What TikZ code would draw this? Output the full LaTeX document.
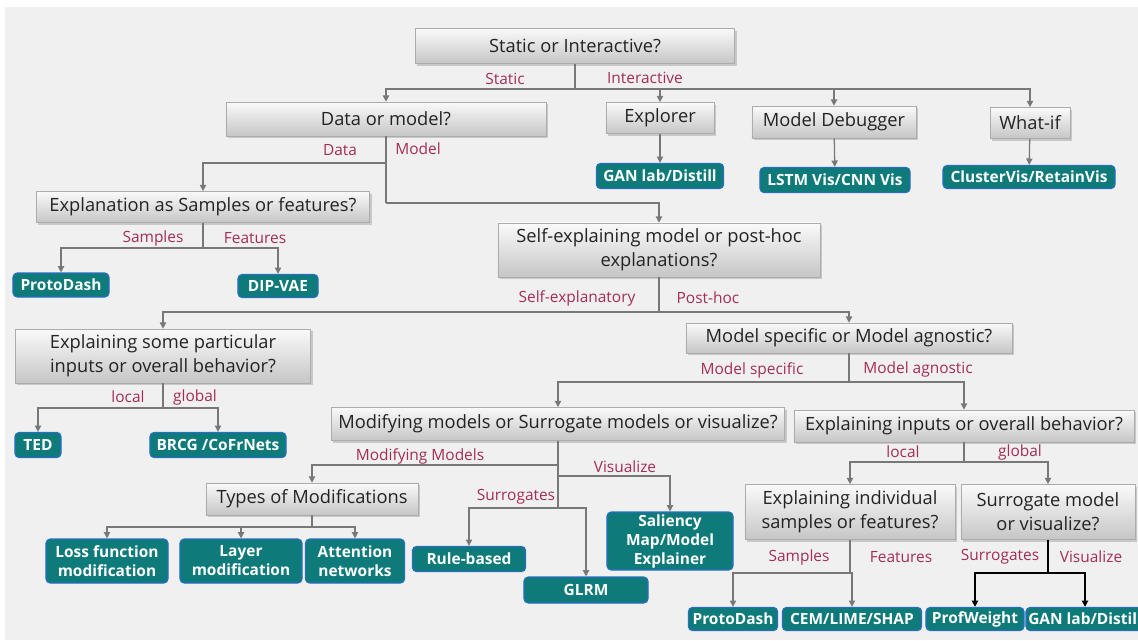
\documentclass[tikz,border=0pt]{standalone}
\usepackage{fontspec}
\setmainfont{Open Sans}
\usetikzlibrary{arrows.meta,shadows}

\definecolor{panel}{RGB}{240,240,240}
\definecolor{tealfill}{RGB}{14,122,122}
\definecolor{tealedge}{RGB}{40,110,200}
\definecolor{optred}{RGB}{165,45,85}
\definecolor{wiregray}{RGB}{120,120,120}
\definecolor{boxtext}{RGB}{35,35,35}

\tikzset{
	qbox/.style={rectangle,draw=gray!65,top color=gray!4,bottom color=gray!45,
		drop shadow={shadow xshift=1.5pt,shadow yshift=-1.5pt,opacity=0.35},
		text=boxtext,font=\fontsize{13}{17}\selectfont,align=center,inner sep=2pt},
	tool/.style={rectangle,rounded corners=3pt,draw=tealedge,line width=0.8pt,fill=tealfill,
		text=white,font=\fontsize{11}{13.5}\selectfont\bfseries,align=center,inner sep=1pt},
	wire/.style={draw=wiregray,line width=0.9pt},
	wirearr/.style={wire,-{Triangle[length=4.5pt,width=4.5pt]}},
	opt/.style={text=optred,font=\fontsize{11}{13}\selectfont,inner sep=0pt},
}

\begin{document}
\begin{tikzpicture}[x=0.025cm,y=-0.025cm]
	\useasboundingbox (0,0) rectangle (1138,640);
	\fill[white] (0,0) rectangle (1138,640);
	\fill[panel] (5,7) rectangle (1138,640);

	% question boxes
	\node[qbox,minimum width=7.98cm,minimum height=0.88cm] (static) at (575,46) {Static or Interactive?};
	\node[qbox,minimum width=8cm,minimum height=0.85cm] (data) at (386,119) {Data or model?};
	\node[qbox,minimum width=2.7cm,minimum height=0.78cm] (explorer) at (660,118) {Explorer};
	\node[qbox,minimum width=4.1cm,minimum height=0.8cm] (debugger) at (834,122) {Model Debugger};
	\node[qbox,minimum width=2cm,minimum height=0.78cm] (whatif) at (1030,123) {What-if};
	\node[qbox,minimum width=8.33cm,minimum height=0.78cm] (expl) at (203,207) {Explanation as Samples or features?};
	\node[qbox,minimum width=8.05cm,minimum height=1.35cm] (self) at (659,250) {Self-explaining model or post-hoc\\explanations?};
	\node[qbox,minimum width=7.38cm,minimum height=1.35cm] (partic) at (163,356) {Explaining some particular\\inputs or overall behavior?};
	\node[qbox,minimum width=8.15cm,minimum height=0.75cm] (specific) at (849,338) {Model specific or Model agnostic?};
	\node[qbox,minimum width=11.33cm,minimum height=0.83cm] (modify) at (558,424) {Modifying models or Surrogate models or visualize?};
	\node[qbox,minimum width=8.5cm,minimum height=0.8cm] (inputs) at (964,426) {Explaining inputs or overall behavior?};
	\node[qbox,minimum width=5.3cm,minimum height=0.8cm] (types) at (312,499) {Types of Modifications};
	\node[qbox,minimum width=5.25cm,minimum height=1.38cm] (indiv) at (850,512) {Explaining individual\\samples or features?};
	\node[qbox,minimum width=4.35cm,minimum height=1.38cm] (surr) at (1048,512) {Surrogate model\\or visualize?};

	% toolkits
	\node[tool,minimum width=3.18cm,minimum height=0.63cm] (ganA) at (660,176) {GAN lab/Distill};
	\node[tool,minimum width=3.75cm,minimum height=0.63cm] (lstm) at (835,180) {LSTM Vis/CNN Vis};
	\node[tool,minimum width=4.3cm,minimum height=0.58cm] (cluster) at (1029,177) {ClusterVis/RetainVis};
	\node[tool,minimum width=2.4cm,minimum height=0.6cm] (protoA) at (61,285) {ProtoDash};
	\node[tool,minimum width=2cm,minimum height=0.58cm] (dipvae) at (278,286) {DIP-VAE};
	\node[tool,minimum width=1.15cm,minimum height=0.63cm] (ted) at (38,445) {TED};
	\node[tool,minimum width=3.4cm,minimum height=0.63cm] (brcg) at (218,445) {BRCG /CoFrNets};
	\node[tool,minimum width=3.05cm,minimum height=1.1cm] (loss) at (107,561) {Loss function\\modification};
	\node[tool,minimum width=3.05cm,minimum height=1.1cm] (layer) at (241,561) {Layer\\modification};
	\node[tool,minimum width=2.48cm,minimum height=1.1cm] (attn) at (355,561) {Attention\\networks};
	\node[tool,minimum width=2.83cm,minimum height=0.63cm] (rule) at (469,559) {Rule-based};
	\node[tool,minimum width=3.1cm,minimum height=0.65cm] (glrm) at (586,590) {GLRM};
	\node[tool,minimum width=3.15cm,minimum height=1.45cm] (saliency) at (670,541) {Saliency\\Map/Model\\Explainer};
	\node[tool,minimum width=2.23cm,minimum height=0.58cm] (protoB) at (733,619) {ProtoDash};
	\node[tool,minimum width=3.48cm,minimum height=0.58cm] (cem) at (852,619) {CEM/LIME/SHAP};
	\node[tool,minimum width=2.45cm,minimum height=0.58cm] (prof) at (975,619) {ProfWeight};
	\node[tool,minimum width=2.95cm,minimum height=0.58cm] (ganB) at (1085,619) {GAN lab/Distill};

	% static / interactive
	\coordinate (j1) at (575,89);
	\draw[wire] (static.south) -- (j1);
	\draw[wirearr] (j1) -| (data.north);
	\draw[wirearr] (j1) -| (explorer.north);
	\draw[wirearr] (j1) -| (debugger.north);
	\draw[wirearr] (j1) -| (whatif.north);
	\draw[wirearr] (explorer) -- (ganA);
	\draw[wirearr] (debugger) -- (lstm);
	\draw[wirearr] (whatif) -- (cluster);
	\node[opt] (lStatic) at (505,79) {Static};
	\node[opt] (lInter) at (645,78) {Interactive};

	% data / model
	\coordinate (j2) at (386,163);
	\coordinate (j3) at (386,203);
	\draw[wire] (data.south) -- (j3);
	\draw[wirearr] (j2) -| (expl.north);
	\draw[wirearr] (j3) -| (self.north);
	\node[opt] (lData) at (340,150) {Data};
	\node[opt] (lModel) at (418,149) {Model};

	\coordinate (j4) at (203,248);
	\draw[wire] (expl.south) -- (j4);
	\draw[wirearr] (j4) -| (protoA.north);
	\draw[wirearr] (j4) -| (dipvae.north);
	\node[opt] (lSampA) at (153,238) {Samples};
	\node[opt] (lFeatA) at (255,238) {Features};

	% self-explaining or post-hoc
	\coordinate (j5) at (659,312);
	\draw[wire] (self.south) -- (j5);
	\draw[wirearr] (j5) -| (partic.north);
	\draw[wirearr] (j5) -| (specific.north);
	\node[opt] (lSelf) at (577,298) {Self-explanatory};
	\node[opt] (lPost) at (708,298) {Post-hoc};

	\coordinate (j6) at (163,408);
	\draw[wire] (partic.south) -- (j6);
	\draw[wirearr] (j6) -| (ted.north);
	\draw[wirearr] (j6) -| (brcg.north);
	\node[opt] (lLocA) at (128,397) {local};
	\node[opt] (lGloA) at (195,397) {global};

	\coordinate (j7) at (849,382);
	\draw[wire] (specific.south) -- (j7);
	\draw[wirearr] (j7) -| (modify.north);
	\draw[wirearr] (j7) -| (inputs.north);
	\node[opt] (lSpec) at (752,370) {Model specific};
	\node[opt] (lAgn) at (918,369) {Model agnostic};

	% model specific branch
	\coordinate (j8) at (558,465);
	\coordinate (j9) at (558,476);
	\coordinate (j10) at (558,508);
	\draw[wire] (modify.south) -- (j10);
	\draw[wirearr] (j8) -| (types.north);
	\draw[wirearr] (j9) -| (saliency.north);
	\draw[wirearr] (j10) -| (rule.north);
	\draw[wirearr] (j10) -| (glrm.north);
	\node[opt] (lModif) at (420,456) {Modifying Models};
	\node[opt] (lVisA) at (625,467) {Visualize};
	\node[opt] (lSurA) at (516,497) {Surrogates};

	\coordinate (j11) at (312,527);
	\draw[wire] (types.south) -- (j11);
	\draw[wirearr] (j11) -| (loss.north);
	\draw[wirearr] (j11) -| (layer.north);
	\draw[wirearr] (j11) -| (attn.north);

	% model agnostic branch
	\coordinate (j12) at (964,462);
	\draw[wire] (inputs.south) -- (j12);
	\draw[wirearr] (j12) -| (indiv.north);
	\draw[wirearr] (j12) -| (surr.north);
	\node[opt] (lLocB) at (903,452) {local};
	\node[opt] (lGloB) at (1020,452) {global};

	\coordinate (j13) at (850,573);
	\draw[wire] (indiv.south) -- (j13);
	\draw[wirearr] (j13) -| (protoB.north);
	\draw[wirearr] (j13) -| (cem.north);
	\node[opt] (lSampB) at (799,557) {Samples};
	\node[opt] (lFeatB) at (901,557) {Features};

	\coordinate (j14) at (1048,573);
	\draw[wire,draw=black] (surr.south) -- (j14);
	\draw[wirearr,draw=black,line width=1.1pt] (j14) -| (prof.north);
	\draw[wirearr,draw=black,line width=1.1pt] (j14) -| (ganB.north);
	\node[opt] (lSurB) at (1000,557) {Surrogates};
	\node[opt] (lVisB) at (1091,557) {Visualize};
\end{tikzpicture}
\end{document}
